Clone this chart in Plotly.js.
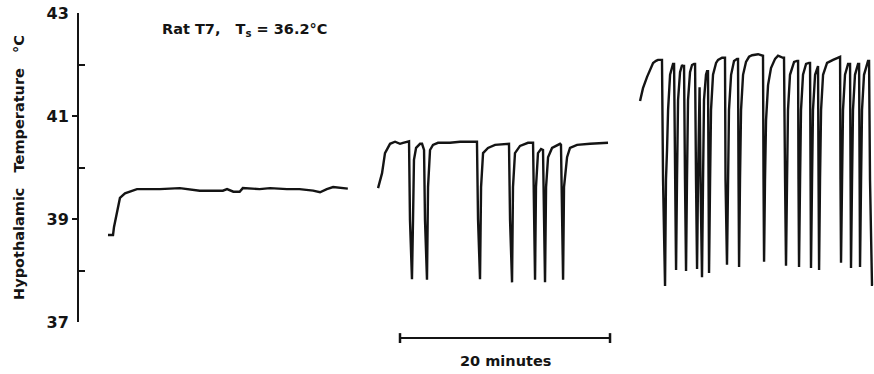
<!DOCTYPE html>
<html>
<head>
<meta charset="utf-8">
<script src="https://cdn.plot.ly/plotly-3.0.1.min.js"></script>
<style>html,body{margin:0;padding:0;background:#fff;}#chart{width:874px;height:374px;}</style>
</head>
<body>
<div id="chart"></div>
<script>
// Time in minutes (shared recording time axis), temperature in °C
var trace1Minutes = [2.76, 3.24, 3.33, 3.62, 3.90, 4.38, 4.86, 5.52, 7.7, 9.6, 11.5, 12.7, 13.7, 14.1, 14.7, 15.3, 15.6, 17.2, 18.2, 19.8, 21.0, 22.3, 22.95, 23.6, 24.2, 25.6];
var trace1Temp    = [38.69, 38.69, 38.84, 39.17, 39.41, 39.50, 39.54, 39.58, 39.58, 39.60, 39.55, 39.55, 39.55, 39.58, 39.53, 39.53, 39.60, 39.58, 39.60, 39.58, 39.58, 39.55, 39.52, 39.58, 39.62, 39.59];

var trace2Minutes = [28.48, 28.86, 29.14, 29.62, 30.10, 30.57, 30.86, 31.24, 31.43, 31.52, 31.71, 31.81, 31.90, 32.10, 32.48, 32.67,
  32.86, 32.95, 33.14, 33.24, 33.43, 33.71, 34.19, 35.33, 36.29, 37.90,
  38.00, 38.19, 38.29, 38.48, 38.95, 39.62, 40.76, 40.95,
  41.05, 41.24, 41.33, 41.52, 42.00, 42.76, 43.24,
  43.33, 43.43, 43.52, 43.71, 44.00, 44.19,
  44.29, 44.38, 44.48, 44.67, 45.05, 45.52, 45.81, 45.90,
  46.00, 46.10, 46.19, 46.48, 46.76, 47.43, 48.67, 50.38];
var trace2Temp = [39.60, 39.89, 40.28, 40.46, 40.50, 40.46, 40.48, 40.51, 40.51, 38.98, 37.83, 38.98, 40.15, 40.38, 40.46, 40.46,
  40.34, 38.98, 37.82, 39.62, 40.34, 40.44, 40.48, 40.48, 40.50, 40.50,
  39.00, 37.83, 39.62, 40.28, 40.38, 40.44, 40.46, 40.46,
  38.98, 37.77, 39.62, 40.28, 40.42, 40.48, 40.48,
  38.98, 37.82, 39.62, 40.28, 40.36, 40.34,
  38.98, 37.77, 39.62, 40.20, 40.38, 40.44, 40.46, 40.44,
  38.98, 37.82, 39.62, 40.20, 40.38, 40.44, 40.46, 40.48];

var trace3Minutes = [53.43, 53.71, 54.10, 54.38, 54.67, 54.95, 55.14, 55.52,
  55.62, 55.81, 55.90, 56.00, 56.10, 56.29, 56.57, 56.67,
  56.76, 56.86, 56.95, 57.05, 57.24, 57.43, 57.52, 57.62,
  57.71, 57.81, 57.90, 58.00, 58.19, 58.38, 58.57, 58.67,
  58.76, 58.86, 58.95, 59.00, 59.10,
  59.19, 59.33, 59.43, 59.52, 59.71, 59.81, 59.90,
  59.95, 60.00, 60.10, 60.19, 60.38, 60.67, 60.86, 61.24, 61.52,
  61.57, 61.71, 61.81, 61.90, 62.10, 62.38, 62.67, 62.76,
  62.81, 62.86, 62.95, 63.05, 63.24, 63.52, 63.81, 64.10, 64.67, 65.05, 65.14,
  65.19, 65.24, 65.33, 65.43, 65.62, 65.90, 66.29, 66.57, 67.05, 67.14,
  67.24, 67.33, 67.43, 67.52, 67.71, 68.10, 68.38, 68.48,
  68.52, 68.57, 68.67, 68.76, 68.95, 69.24, 69.52, 69.62,
  69.67, 69.71, 69.81, 69.90, 70.10, 70.29, 70.38,
  70.43, 70.48, 70.57, 70.67, 70.86, 71.24, 71.81, 72.38, 72.48,
  72.52, 72.57, 72.67, 72.76, 72.95, 73.24, 73.33, 73.43,
  73.48, 73.52, 73.62, 73.71, 73.90, 74.19, 74.29,
  74.33, 74.38, 74.48, 74.57, 74.76, 75.05, 75.14, 75.24,
  75.33, 75.52, 75.62];
var trace3Temp = [41.29, 41.54, 41.76, 41.91, 42.03, 42.07, 42.09, 42.09,
  39.76, 37.70, 39.76, 40.34, 41.12, 41.80, 42.01, 42.01,
  39.76, 38.01, 39.76, 41.31, 41.85, 41.99, 41.97, 41.97,
  39.76, 37.99, 39.76, 41.31, 41.85, 41.99, 42.01, 42.01,
  39.76, 38.03, 39.76, 40.34, 41.56,
  39.76, 37.87, 39.76, 41.31, 41.80, 41.87, 41.87,
  39.76, 37.95, 39.76, 41.12, 41.80, 42.03, 42.09, 42.13, 42.13,
  39.76, 38.11, 39.76, 41.12, 41.80, 42.07, 42.11, 42.11,
  39.76, 38.07, 39.76, 41.12, 41.80, 42.05, 42.15, 42.18, 42.20, 42.17, 42.17,
  39.76, 38.17, 39.76, 40.92, 41.60, 41.93, 42.11, 42.17, 42.13, 42.13,
  39.76, 38.09, 39.76, 41.12, 41.80, 42.05, 42.07, 42.07,
  39.76, 38.07, 39.76, 41.12, 41.80, 42.01, 42.03, 42.03,
  39.76, 38.05, 39.76, 41.12, 41.80, 41.95, 41.97,
  39.76, 38.01, 39.76, 41.12, 41.80, 42.03, 42.09, 42.15, 42.15,
  39.76, 38.15, 39.76, 41.12, 41.80, 42.01, 42.01, 42.01,
  39.76, 38.05, 39.76, 41.12, 41.80, 42.01, 42.01,
  39.76, 38.07, 39.76, 41.12, 41.80, 42.05, 42.07, 42.07,
  39.76, 37.72, 37.72];

var yTickVals = [37, 39, 41, 43];
var yTickText = ["37", "39", "41", "43"];
var yMinorTicks = [37, 38, 40, 42, 43];
var yOuterTicks = [39, 41];
var scaleBarStart = 30.57;   // minutes
var scaleBarLength = 20;     // minutes
var scaleBarLabel = "20 minutes";
var chartLabel = "Rat T7,&nbsp;&nbsp; T<sub>s</sub> = 36.2°C";
var yTitle = "Hypothalamic&nbsp;&nbsp; Temperature&nbsp;&nbsp; °C";

var ink = "#141414";
var fontFam = "DejaVu Sans, sans-serif";

function lineTrace(x, y) {
  return {x: x, y: y, type: "scatter", mode: "lines", hoverinfo: "skip",
          line: {color: ink, width: 2.4, shape: "linear"}, showlegend: false};
}

var data = [
  lineTrace(trace1Minutes, trace1Temp),
  lineTrace(trace2Minutes, trace2Temp),
  lineTrace(trace3Minutes, trace3Temp),
  {x: [], y: [], yaxis: "y2", type: "scatter", showlegend: false},
  {x: [], y: [], yaxis: "y3", type: "scatter", showlegend: false}
];

var scaleEnd = scaleBarStart + scaleBarLength;
var layout = {
  width: 874, height: 374,
  margin: {l: 79, r: 0, t: 13, b: 52},
  paper_bgcolor: "#fff", plot_bgcolor: "#fff",
  showlegend: false,
  font: {family: fontFam, color: ink, size: 14, weight: "bold"},
  xaxis: {range: [0, 75.71], visible: false, fixedrange: true},
  yaxis: {
    range: [37, 43], tickvals: yTickVals, ticktext: yTickText,
    ticks: "", showgrid: false, zeroline: false,
    showline: true, linecolor: ink, linewidth: 2,
    tickfont: {family: fontFam, size: 16, weight: "bold", color: ink},
    ticklabelstandoff: 5,
    title: {text: yTitle, standoff: 18, font: {family: fontFam, size: 14.5, weight: "bold", color: ink}}
  },
  yaxis2: {
    overlaying: "y", side: "left", range: [37, 43], tickvals: yMinorTicks,
    ticks: "inside", ticklen: 6, tickwidth: 2, tickcolor: ink,
    showticklabels: false, showgrid: false, zeroline: false, showline: false
  },
  yaxis3: {
    overlaying: "y", side: "left", range: [37, 43], tickvals: yOuterTicks,
    ticks: "outside", ticklen: 6, tickwidth: 2, tickcolor: ink,
    showticklabels: false, showgrid: false, zeroline: false, showline: false
  },
  shapes: [
    {type: "line", xref: "x", yref: "paper", x0: scaleBarStart, x1: scaleEnd, y0: -0.052, y1: -0.052, line: {color: ink, width: 2}},
    {type: "line", xref: "x", yref: "paper", x0: scaleBarStart, x1: scaleBarStart, y0: -0.036, y1: -0.068, line: {color: ink, width: 2.5}},
    {type: "line", xref: "x", yref: "paper", x0: scaleEnd, x1: scaleEnd, y0: -0.036, y1: -0.068, line: {color: ink, width: 2.5}}
  ],
  annotations: [
    {text: scaleBarLabel, xref: "x", yref: "paper", x: scaleBarStart + scaleBarLength / 2, y: -0.127,
     xanchor: "center", yanchor: "middle", showarrow: false,
     font: {family: fontFam, size: 14.5, weight: "bold", color: ink}},
    {text: chartLabel, xref: "paper", yref: "paper", x: 0.102, y: 0.945,
     xanchor: "left", yanchor: "middle", showarrow: false,
     font: {family: fontFam, size: 14.5, weight: "bold", color: ink}}
  ]
};

Plotly.newPlot("chart", data, layout, {staticPlot: true, displayModeBar: false});
</script>
</body>
</html>
